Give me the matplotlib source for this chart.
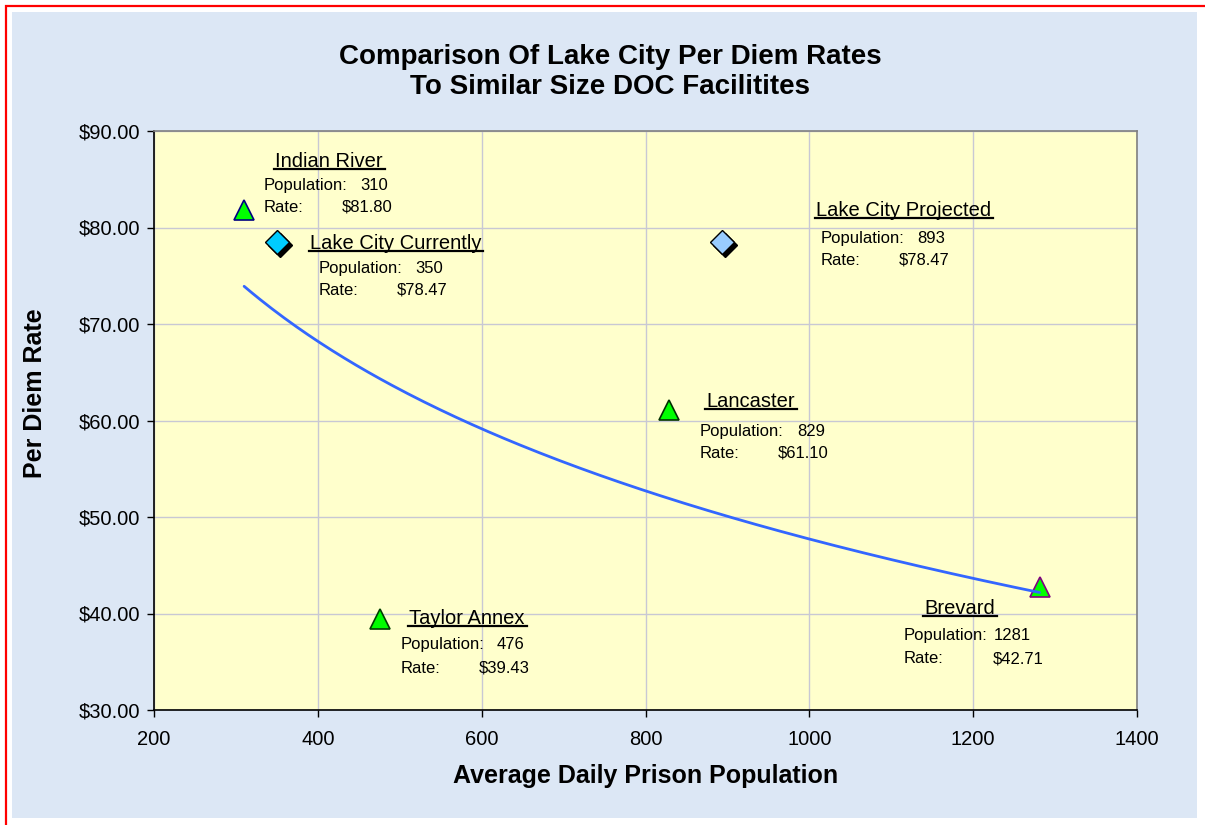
import numpy as np
import matplotlib
matplotlib.use('Agg')
import matplotlib.pyplot as plt
from matplotlib.patches import Rectangle
from matplotlib.lines import Line2D
import matplotlib.transforms as mtransforms

plt.rcParams['font.family'] = ['Liberation Sans', 'DejaVu Sans']

# ---------------- data ----------------
names = ['Indian River', 'Lake City Currently', 'Taylor Annex',
         'Lancaster', 'Lake City Projected', 'Brevard']
population = [310, 350, 476, 829, 893, 1281]
rate = [81.80, 78.47, 39.43, 61.10, 78.47, 42.71]
kind = ['doc', 'current', 'doc', 'doc', 'projected', 'doc']
pop_text = ['310', '350', '476', '829', '893', '1281']
rate_text = ['$81.80', '$78.47', '$39.43', '$61.10', '$78.47', '$42.71']

x_ticks = [200, 400, 600, 800, 1000, 1200, 1400]
y_ticks = [30, 40, 50, 60, 70, 80, 90]
y_tick_labels = ['$30.00', '$40.00', '$50.00', '$60.00', '$70.00', '$80.00', '$90.00']

title = 'Comparison Of Lake City Per Diem Rates\nTo Similar Size DOC Facilitites'
xlabel = 'Average Daily Prison Population'
ylabel = 'Per Diem Rate'

# label layout (data coords): title_x, title_y, line_x, pop_y, rate_y, popval_x, rateval_x
layout = {
    'Indian River':        (347.7, 86.79, 334.3, 84.40, 82.12, 451.5, 429.5),
    'Lake City Currently': (390.4, 78.39, 401.4, 75.80, 73.52, 518.6, 496.6),
    'Taylor Annex':        (511.3, 39.53, 501.5, 36.74, 34.35, 618.7, 596.7),
    'Lancaster':           (873.9, 61.92, 866.5, 58.81, 56.63, 985.0, 961.7),
    'Lake City Projected': (1008.1, 81.81, 1014.2, 78.91, 76.63, 1131.4, 1109.5),
    'Brevard':             (1140.0, 40.47, 1115.6, 37.67, 35.29, 1225.4, 1224.0),
}
tri_edge = {'Indian River': '#000080', 'Taylor Annex': '#004000',
            'Lancaster': '#003000', 'Brevard': '#800080'}

W, H = 1205, 825
fig = plt.figure(figsize=(W / 100, H / 100), dpi=100)
fig.patch.set_facecolor('white')

# red frame and textured-looking background
fig.patches.append(Rectangle((6 / W, -0.1), 1.2, 1 - 6 / H + 0.1,
                             transform=fig.transFigure, facecolor='white',
                             edgecolor='#FF0000', lw=1.6, zorder=-10))
fig.patches.append(Rectangle((12 / W, 7 / H), (1197 - 12) / W, (818 - 12) / H,
                             transform=fig.transFigure, facecolor='#DCE7F5',
                             edgecolor='none', zorder=-9))

ax = fig.add_axes([154 / W, 115 / H, 983 / W, 579 / H])
ax.set_facecolor('#FFFFCC')
ax.set_xlim(200, 1400)
ax.set_ylim(30, 90)
ax.set_xticks(x_ticks)
ax.set_yticks(y_ticks)
ax.set_yticklabels(y_tick_labels)
ax.grid(True, color='#C8C8D4', lw=1.0)
ax.set_axisbelow(True)
ax.tick_params(direction='out', length=5, width=1, labelsize=14.5, colors='black')
ax.tick_params(axis='x', pad=9.5)
ax.tick_params(axis='y', pad=5)
ax.spines['left'].set_color('black')
ax.spines['bottom'].set_color('black')
ax.spines['top'].set_color('#808080')
ax.spines['right'].set_color('#808080')
for s in ax.spines.values():
    s.set_linewidth(1.2)

# logarithmic trend fitted on facilities + current Lake City
fx = np.array([p for p, k in zip(population, kind) if k != 'projected'], float)
fy = np.array([r for r, k in zip(rate, kind) if k != 'projected'], float)
b, a = np.polyfit(np.log(fx), fy, 1)
tx = np.linspace(fx.min(), fx.max(), 200)
ax.plot(tx, a + b * np.log(tx), color='#3366FF', lw=2.0, zorder=5, solid_capstyle='round')

shadow = mtransforms.offset_copy(ax.transData, fig=fig, x=3, y=-3, units='dots')
for n, p, r, k in zip(names, population, rate, kind):
    if k == 'doc':
        ax.plot([p], [r], marker='^', ms=15, mfc='#00FF00', mec=tri_edge[n],
                mew=1.2, ls='none', zorder=4, clip_on=False)
    else:
        fc = '#00CCFF' if k == 'current' else '#99CCFF'
        ax.plot([p], [r], marker='D', ms=12.5, mfc='black', mec='black',
                ls='none', zorder=3, transform=shadow, clip_on=False)
        ax.plot([p], [r], marker='D', ms=12.5, mfc=fc, mec='black', mew=1.0,
                ls='none', zorder=4, clip_on=False)

title_texts = []
for n, ptxt, rtxt in zip(names, pop_text, rate_text):
    tx0, ty0, lx, py, ry, pvx, rvx = layout[n]
    t = ax.text(tx0, ty0, n, fontsize=14.5, ha='left', va='center', zorder=6)
    title_texts.append(t)
    ax.text(lx, py, 'Population:', fontsize=12, ha='left', va='center', zorder=6)
    ax.text(pvx, py, ptxt, fontsize=12, ha='left', va='center', zorder=6)
    ax.text(lx, ry, 'Rate:', fontsize=12, ha='left', va='center', zorder=6)
    ax.text(rvx, ry, rtxt, fontsize=12, ha='left', va='center', zorder=6)

fig.text(610 / W, 1 - 71.5 / H, title, fontsize=20, fontweight='bold',
         ha='center', va='center', linespacing=1.2)
fig.text(35 / W, 1 - 393 / H, ylabel, fontsize=18, fontweight='bold',
         rotation=90, ha='center', va='center')
fig.text(646 / W, 1 - 776 / H, xlabel, fontsize=18, fontweight='bold',
         ha='center', va='center')

# underline the label titles
fig.canvas.draw()
renderer = fig.canvas.get_renderer()
inv = fig.transFigure.inverted()
for t in title_texts:
    bb = t.get_window_extent(renderer)
    yline = bb.y0 + 2
    (x0, y0) = inv.transform((bb.x0 - 1, yline))
    (x1, _) = inv.transform((bb.x1 + 2, yline))
    fig.add_artist(Line2D([x0, x1], [y0, y0], color='black', lw=1.6,
                          transform=fig.transFigure, zorder=7))

fig.savefig('out.png', dpi=100)
